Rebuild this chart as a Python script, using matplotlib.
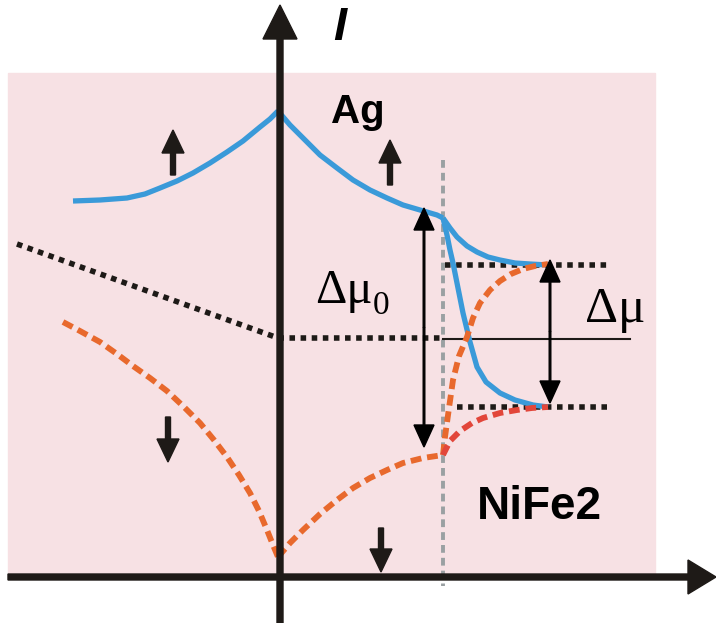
import matplotlib.pyplot as plt
from matplotlib.patches import Rectangle

# everything is laid out in picture pixels: x to the right, y downward
# blue curve (spin up)
up_left_x = [73, 100, 127, 145, 160, 177, 193, 210, 227, 243, 260, 270, 278]
up_left_y = [201, 200, 198, 194, 188, 181, 173, 163, 152, 141, 127, 119, 111]
up_right_x = [278, 290, 303, 320, 337, 353, 370, 387, 403, 420, 437, 443]
up_right_y = [111, 125, 138, 155, 168, 180, 190, 198, 205, 210, 215, 218]
up_top_x = [443, 450, 457, 467, 477, 488, 500, 515, 530, 548]
up_top_y = [218, 228, 237, 246, 252, 257, 260, 263, 264, 265]
up_bot_x = [443, 447, 450, 453, 458, 463, 470, 477, 486, 500, 515, 533, 548]
up_bot_y = [218, 235, 250, 263, 288, 313, 342, 367, 382, 393, 400, 405, 407]

# orange dashed curve (spin down)
dn_left_x = [63, 80, 100, 117, 133, 150, 167, 183, 200, 214, 227, 239, 250, 259, 267, 273, 278]
dn_left_y = [322, 331, 342, 354, 366, 378, 391, 406, 423, 440, 457, 475, 493, 511, 530, 545, 557]
dn_right_x = [278, 290, 303, 320, 337, 353, 370, 387, 403, 423, 443]
dn_right_y = [557, 543, 530, 514, 500, 488, 478, 470, 463, 458, 455]
dn_top_x = [443, 445, 449, 453, 459, 467, 473, 480, 490, 500, 511, 523, 535, 548]
dn_top_y = [455, 437, 408, 380, 356, 337, 318, 303, 290, 281, 274, 269, 266, 264]
dn_bot_x = [443, 450, 460, 472, 483, 500, 517, 532, 548]
dn_bot_y = [455, 441, 431, 423, 418, 413, 410, 408, 407]

# black dotted average potential
avg_x = [17, 278, 443]
avg_y = [244, 338, 338]
mu_levels = [265, 407]
mu_level_start = [445, 457]

BLUE = '#3a9ad9'
ORANGE = '#e8692d'
RED = '#e2463a'
BLACK = '#1e1a17'
GRAY = '#9aa0a2'
PINK = '#f7e1e4'

fig = plt.figure(figsize=(7.16, 6.23), dpi=100)
ax = fig.add_axes([0, 0, 1, 1])
ax.set_xlim(0, 716)
ax.set_ylim(623, 0)
ax.axis('off')

ax.add_patch(Rectangle((8, 73), 647, 505, color=PINK, zorder=0))

# interface
ax.plot([443, 443], [160, 586], color=GRAY, lw=2.8, ls=(0, (2, 1.3)), zorder=1)

# dotted lines
ax.plot(avg_x, avg_y, color=BLACK, lw=4, ls=(0, (1, 1)), dash_capstyle='butt', zorder=2)
for yl, xs in zip(mu_levels, mu_level_start):
    ax.plot([xs, 607], [yl, yl], color=BLACK, lw=4, ls=(0, (1, 1)), dash_capstyle='butt', zorder=2)
ax.plot([443, 630], [339, 339], color=BLACK, lw=1.5, zorder=2)

# curves
for xs, ys in [(up_left_x, up_left_y), (up_right_x, up_right_y), (up_top_x, up_top_y), (up_bot_x, up_bot_y)]:
    ax.plot(xs, ys, color=BLUE, lw=3.8, solid_joinstyle='round', solid_capstyle='butt', zorder=3)
for xs, ys, c in [(dn_left_x, dn_left_y, ORANGE), (dn_right_x, dn_right_y, ORANGE),
                  (dn_top_x, dn_top_y, ORANGE), (dn_bot_x, dn_bot_y, RED)]:
    ax.plot(xs, ys, color=c, lw=4.2, ls=(0, (1.85, 1.0)), dash_capstyle='butt', zorder=3)

# axes with arrow heads
ax.arrow(280, 623, 0, -618, width=6, head_width=34, head_length=34,
         length_includes_head=True, color=BLACK, zorder=4)
ax.arrow(8, 577, 708, 0, width=6, head_width=34, head_length=28,
         length_includes_head=True, color=BLACK, zorder=4)

# spin arrows
for x0, y0, y1 in [(173, 175, 130), (390, 185, 140), (168, 417, 462), (381, 528, 572)]:
    ax.arrow(x0, y0, 0, y1 - y0, width=5, head_width=22, head_length=23,
             length_includes_head=True, color=BLACK, zorder=4)

# double arrows for the splittings
for x0, ya, yb in [(424, 208, 447), (550, 260, 403)]:
    ym = (ya + yb) / 2
    for yt in (ya, yb):
        ax.arrow(x0, ym, 0, yt - ym, width=1.6, head_width=20, head_length=22,
                 length_includes_head=True, color='black', zorder=5)

# labels
ax.text(333, 40, 'I', fontsize=34, fontweight='bold', fontstyle='italic',
        family='Liberation Sans', color='black', va='baseline')
ax.text(331, 123, 'Ag', fontsize=29, fontweight='bold', family='Liberation Sans',
        color='black', va='baseline')
ax.text(477, 519, 'NiFe2', fontsize=33, fontweight='bold', family='Liberation Sans',
        color='black', va='baseline')
ax.text(315, 303, 'Δμ', fontsize=35, family='Liberation Serif', color='black', va='baseline')
ax.text(373, 314, '0', fontsize=24, family='Liberation Serif', color='black', va='baseline')
ax.text(585, 322, 'Δμ', fontsize=37, family='Liberation Serif', color='black', va='baseline')

fig.savefig('out.png', dpi=100)
